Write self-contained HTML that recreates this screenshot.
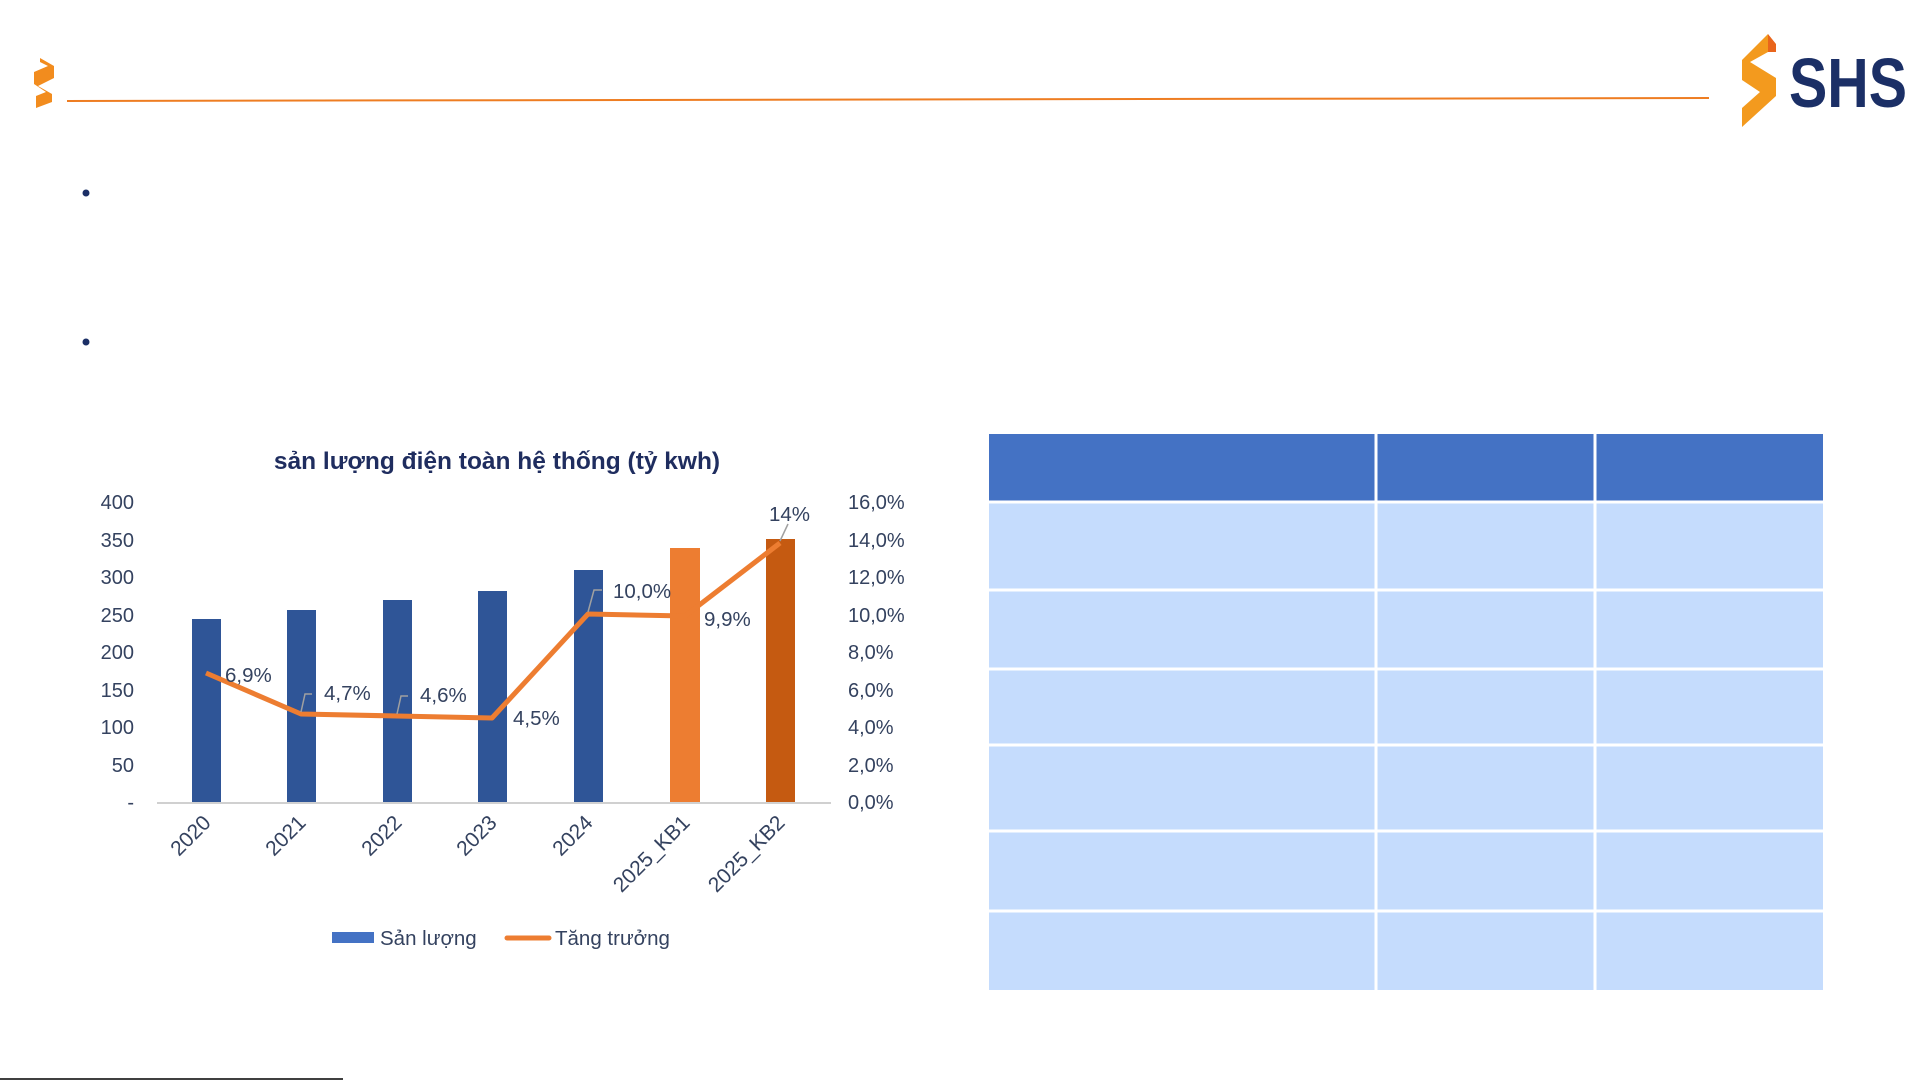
<!DOCTYPE html>
<html><head><meta charset="utf-8"><style>
body{margin:0;width:1921px;height:1081px;background:#fff;position:relative;overflow:hidden;font-family:"Liberation Sans",sans-serif}
.a{position:absolute}
</style></head><body>
<svg class="a" style="left:0;top:0" width="1921" height="1081">
<path d="M40 58 L54 66 L54 78 L38 86 L52 94 L52 102 L36 108 L36 96 L46 92 L34 84 L34 72 L48 66 L40 62Z" fill="#f28c1e"/>
<line x1="67" y1="101" x2="1709" y2="98" stroke="#ee7d22" stroke-width="2"/>
<path d="M1768 34 L1768 52 L1750 62 L1776 78 L1776 96 L1742 127 L1742 108 L1760 92 L1742 80 L1742 60Z" fill="#f39a1e"/>
<path d="M1768 34 L1776 44 L1776 52 L1768 52Z" fill="#e9651c"/>
<text x="1789" y="107" font-size="70" font-weight="bold" fill="#1b2f66" font-family="Liberation Sans, sans-serif" textLength="118" lengthAdjust="spacingAndGlyphs">SHS</text>
<circle cx="86" cy="193" r="3.5" fill="#1b2f66"/>
<circle cx="86" cy="342" r="3.5" fill="#1b2f66"/>
<text x="497" y="469" text-anchor="middle" font-size="24.5" font-weight="bold" fill="#1f2d5f">sản lượng điện toàn hệ thống (tỷ kwh)</text>
<g font-size="20" fill="#34425f">
<g text-anchor="end">
<text x="134" y="509">400</text><text x="134" y="547">350</text><text x="134" y="584">300</text><text x="134" y="622">250</text><text x="134" y="659">200</text><text x="134" y="697">150</text><text x="134" y="734">100</text><text x="134" y="772">50</text><text x="134" y="809">-</text>
</g>
<text x="848" y="509">16,0%</text><text x="848" y="547">14,0%</text><text x="848" y="584">12,0%</text><text x="848" y="622">10,0%</text><text x="848" y="659">8,0%</text><text x="848" y="697">6,0%</text><text x="848" y="734">4,0%</text><text x="848" y="772">2,0%</text><text x="848" y="809">0,0%</text>
</g>
<line x1="157" y1="803" x2="831" y2="803" stroke="#d0d0d0" stroke-width="2"/>
<g fill="#2f5597">
<rect x="192" y="619" width="29" height="183"/>
<rect x="287" y="610" width="29" height="192"/>
<rect x="383" y="600" width="29" height="202"/>
<rect x="478" y="591" width="29" height="211"/>
<rect x="574" y="570" width="29" height="232"/>
</g>
<rect x="670" y="548" width="30" height="254" fill="#ed7d31"/>
<rect x="766" y="539" width="29" height="263" fill="#c55a11"/>
<polyline points="206,673 301,714 397,716 492,718 588,614 685,616 780,543" fill="none" stroke="#ed7d31" stroke-width="5" stroke-linejoin="round"/>
<g stroke="#a0a0a0" stroke-width="1.5" fill="none">
<polyline points="301,712 305,694 312,694"/><polyline points="397,714 401,696 408,696"/><polyline points="588,612 594,590 602,590"/><polyline points="780,541 788,524"/>
</g>
<g font-size="20.5" fill="#34425f">
<text x="225" y="682">6,9%</text><text x="324" y="700">4,7%</text><text x="420" y="702">4,6%</text><text x="513" y="725">4,5%</text><text x="613" y="598">10,0%</text><text x="704" y="626">9,9%</text><text x="769" y="521">14%</text>
</g>
<g font-size="21" fill="#34425f" text-anchor="end">
<text transform="translate(212,824) rotate(-45)">2020</text>
<text transform="translate(307,824) rotate(-45)">2021</text>
<text transform="translate(403,824) rotate(-45)">2022</text>
<text transform="translate(498,824) rotate(-45)">2023</text>
<text transform="translate(594,824) rotate(-45)">2024</text>
<text transform="translate(691,824) rotate(-45)">2025_KB1</text>
<text transform="translate(786,824) rotate(-45)">2025_KB2</text>
</g>
<rect x="332" y="932" width="42" height="11" fill="#4472c4"/>
<text x="380" y="945" font-size="20.5" fill="#34425f">Sản lượng</text>
<line x1="507" y1="938" x2="549" y2="938" stroke="#ed7d31" stroke-width="5" stroke-linecap="round"/>
<text x="555" y="945" font-size="20.5" fill="#34425f">Tăng trưởng</text>
<rect x="989" y="434" width="834" height="68" fill="#4472c4"/>
<rect x="989" y="502" width="834" height="488" fill="#c5dcfd"/>
<g stroke="#fff" stroke-width="3">
<line x1="1376" y1="434" x2="1376" y2="990"/><line x1="1595" y1="434" x2="1595" y2="990"/>
<line x1="989" y1="502" x2="1823" y2="502"/><line x1="989" y1="590" x2="1823" y2="590"/><line x1="989" y1="669" x2="1823" y2="669"/><line x1="989" y1="745" x2="1823" y2="745"/><line x1="989" y1="831" x2="1823" y2="831"/><line x1="989" y1="911" x2="1823" y2="911"/>
</g>
<line x1="0" y1="1079" x2="343" y2="1079" stroke="#000" stroke-width="1.5"/>
</svg>
</body></html>
